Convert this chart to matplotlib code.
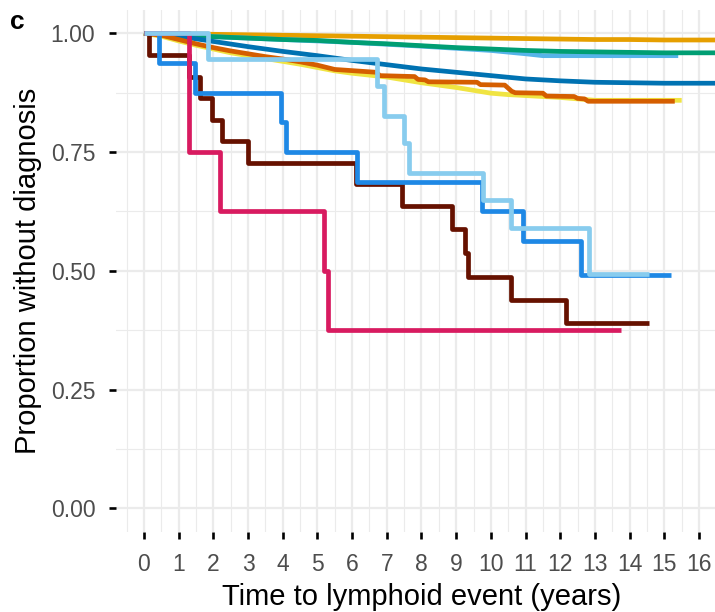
import matplotlib
matplotlib.use('Agg')
import matplotlib.pyplot as plt
import numpy as np

plt.rcParams['font.family'] = ['Liberation Sans', 'DejaVu Sans']

# Survival curves (time in years, proportion without diagnosis)
# large groups: many tiny steps, drawn as lines through read points
gold_t = [0, 1, 2, 3, 4, 5, 6, 7, 8, 9, 10, 11, 12, 13, 14, 15, 16, 16.8]
gold_s = [1, 0.999, 0.998, 0.997, 0.996, 0.995, 0.994, 0.993, 0.992, 0.991,
          0.990, 0.989, 0.988, 0.987, 0.987, 0.986, 0.986, 0.986]

sky_t = [0, 2, 4, 6, 8, 10, 11, 11.5, 15.4]
sky_s = [1, 0.993, 0.987, 0.981, 0.973, 0.964, 0.957, 0.953, 0.953]

green_t = [0, 1, 2, 3, 4, 5, 6, 7, 8, 9, 10, 11, 12, 13, 14, 15, 16, 16.8]
green_s = [1, 0.997, 0.993, 0.990, 0.987, 0.985, 0.981, 0.978, 0.974, 0.970,
           0.967, 0.964, 0.962, 0.961, 0.960, 0.959, 0.959, 0.959]

blue_t = [0, 1, 2, 3, 4, 5, 6, 7, 8, 9, 10, 11, 12, 13, 14, 15, 16, 16.8]
blue_s = [1, 0.994, 0.983, 0.972, 0.962, 0.953, 0.943, 0.934, 0.925, 0.918,
          0.911, 0.904, 0.900, 0.897, 0.896, 0.895, 0.895, 0.895]

yellow_t = [0, 0.5, 1, 1.5, 2, 2.5, 3, 3.5, 4, 4.5, 5, 5.5, 6, 6.5, 7, 7.5,
            8, 8.5, 9, 9.5, 10, 10.5, 11, 11.5, 12, 12.5, 13, 15.5]
yellow_s = [1, 0.994, 0.984, 0.975, 0.967, 0.959, 0.953, 0.947, 0.941, 0.935,
            0.928, 0.921, 0.916, 0.912, 0.908, 0.902, 0.896, 0.891, 0.886,
            0.880, 0.874, 0.871, 0.869, 0.867, 0.865, 0.862, 0.859, 0.859]

orange_t = [0, 0.5, 1, 1.5, 2, 2.5, 3, 3.5, 4, 4.5, 5, 5.5, 6.7, 6.8, 7.8,
            7.9, 8.1, 8.2, 9.6, 9.7, 10.4, 10.6, 10.7, 11.5, 11.6, 12.4, 12.5,
            12.7, 12.8, 15.3]
orange_s = [1, 0.996, 0.987, 0.978, 0.970, 0.963, 0.957, 0.951, 0.946, 0.940,
            0.933, 0.924, 0.918, 0.911, 0.909, 0.903, 0.902, 0.898, 0.897,
            0.892, 0.891, 0.878, 0.875, 0.874, 0.868, 0.867, 0.863, 0.862,
            0.857, 0.857]

# small groups: Kaplan-Meier steps
brown_t = [0, 0.14, 1.29, 1.62, 1.96, 2.24, 3.0, 6.1, 7.44, 8.87, 9.25, 9.33,
           10.59, 12.16, 14.55]
brown_s = [1, 0.955, 0.909, 0.864, 0.818, 0.773, 0.727, 0.682, 0.636, 0.588,
           0.537, 0.488, 0.439, 0.390, 0.390]

midblue_t = [0, 0.43, 1.48, 3.96, 4.1, 6.15, 9.73, 10.92, 12.59, 15.2]
midblue_s = [1, 0.9375, 0.875, 0.8125, 0.75, 0.6875, 0.625, 0.5625, 0.492, 0.492]

crimson_t = [0, 1.29, 2.2, 5.2, 5.3, 13.74]
crimson_s = [1, 0.75, 0.625, 0.5, 0.375, 0.375]

light_t = [0, 1.86, 6.73, 6.92, 7.49, 7.63, 9.76, 10.59, 12.83, 14.55]
light_s = [1, 0.945, 0.889, 0.826, 0.77, 0.706, 0.65, 0.59, 0.493, 0.493]

curves = [
    (gold_t, gold_s, '#E69F00', False),
    (sky_t, sky_s, '#56B4E9', False),
    (green_t, green_s, '#009E73', False),
    (blue_t, blue_s, '#0072B2', False),
    (yellow_t, yellow_s, '#F0E442', False),
    (orange_t, orange_s, '#D55E00', False),
    (brown_t, brown_s, '#661100', True),
    (midblue_t, midblue_s, '#1E88E5', True),
    (crimson_t, crimson_s, '#D81B60', True),
    (light_t, light_s, '#88CCEE', True),
]

fig = plt.figure(figsize=(7.15, 6.12), dpi=100)
ax = fig.add_axes([0.1625, 0.1307, 0.854, 0.8536])

for t, s, c, is_step in curves:
    if is_step:
        ax.step(t, s, where='post', color=c, linewidth=3.4,
                solid_capstyle='butt', solid_joinstyle='round')
    else:
        ax.plot(t, s, color=c, linewidth=3.4,
                solid_capstyle='butt', solid_joinstyle='round')

ax.set_xlim(-0.8, 16.8)
ax.set_ylim(-0.05, 1.05)

ax.set_xticks(np.arange(0, 17))
ax.set_xticks(np.arange(-0.5, 17, 1), minor=True)
ax.set_yticks([0, 0.25, 0.5, 0.75, 1.0])
ax.set_yticklabels(['0.00', '0.25', '0.50', '0.75', '1.00'])
ax.set_yticks([0.125, 0.375, 0.625, 0.875], minor=True)

ax.grid(which='major', color='#EBEBEB', linewidth=1.6)
ax.grid(which='minor', color='#EBEBEB', linewidth=0.8)
ax.set_axisbelow(True)
for sp in ax.spines.values():
    sp.set_visible(False)

ax.tick_params(which='major', length=5, width=1.9, color='black',
               labelsize=16.5, labelcolor='#4D4D4D', pad=10)
ax.tick_params(which='minor', length=0)

ax.set_xlabel('Time to lymphoid event (years)', fontsize=21, labelpad=5)
ax.set_ylabel('Proportion without diagnosis', fontsize=21, labelpad=6)

fig.text(0.014, 0.952, 'c', fontsize=19, fontweight='bold')

fig.savefig('out.png', dpi=100)
